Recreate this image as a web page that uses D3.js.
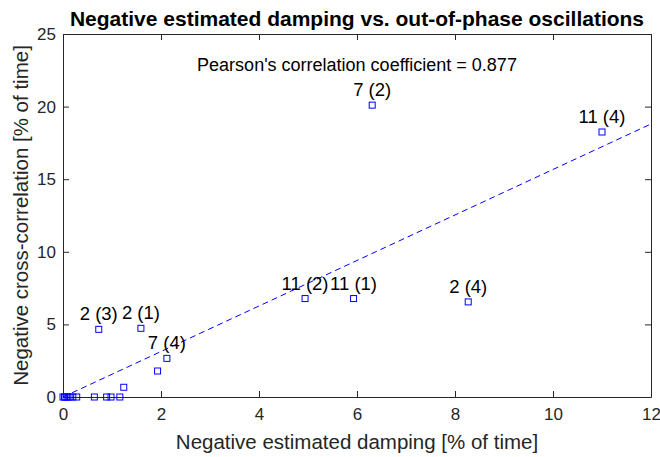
<!DOCTYPE html>
<html><head><meta charset="utf-8">
<script src="https://cdn.jsdelivr.net/npm/d3@7"></script>
<style>body{margin:0;background:#fff}svg{display:block}text{font-family:"Liberation Sans",Arial,sans-serif}</style>
</head><body>
<svg id="c" width="660" height="457"></svg>
<script>
const xVals = [0, 0.03, 0.06, 0.1, 0.14, 0.2, 0.28, 0.64, 0.89, 0.98, 1.16, 1.24, 1.93, 2.12, 0.73, 1.59, 4.94, 5.93, 8.27, 6.31, 11.0];
const yVals = [0, 0, 0, 0, 0, 0, 0, 0, 0, 0, 0, 0.67, 1.79, 2.66, 4.66, 4.73, 6.78, 6.78, 6.55, 20.1, 18.25];
const labels = ["", "", "", "", "", "", "", "", "", "", "", "", "", "7 (4)", "2 (3)", "2 (1)", "11 (2)", "11 (1)", "2 (4)", "7 (2)", "11 (4)"];
const xTicks = [0, 2, 4, 6, 8, 10, 12];
const yTicks = [0, 5, 10, 15, 20, 25];
const fitSlope = 1.567, fitIntercept = 0;
const fitRange = [0, 12];
const titleText = "Negative estimated damping vs. out-of-phase oscillations";
const xLabel = "Negative estimated damping [% of time]";
const yLabel = "Negative cross-correlation [% of time]";
const note = "Pearson's correlation coefficient = 0.877";

const svg = d3.select("#c");
const L = 63, R = 651, T = 34, B = 397;
const x = d3.scaleLinear().domain([0, 12]).range([L, R]);
const y = d3.scaleLinear().domain([0, 25]).range([B, T]);
const axCol = "#262626";

const g = svg.append("g");
const mk = (ax, tr) => {
  const a = g.append("g").attr("transform", tr).call(ax);
  a.select(".domain").attr("stroke", axCol);
  a.selectAll(".tick line").attr("stroke", axCol);
  a.selectAll("text").attr("fill", axCol).style("font-size", "17px").style("font-family", "Liberation Sans, Arial, sans-serif");
  return a;
};
mk(d3.axisBottom(x).tickValues(xTicks).tickSizeInner(-6).tickSizeOuter(0).tickPadding(11), `translate(0,${B})`);
mk(d3.axisTop(x).tickValues(xTicks).tickSizeInner(-6).tickSizeOuter(0).tickFormat(""), `translate(0,${T})`);
mk(d3.axisLeft(y).tickValues(yTicks).tickSizeInner(-6).tickSizeOuter(0).tickPadding(7), `translate(${L},0)`);
mk(d3.axisRight(y).tickValues(yTicks).tickSizeInner(-6).tickSizeOuter(0).tickFormat(""), `translate(${R},0)`);

g.append("line")
  .attr("x1", x(fitRange[0])).attr("y1", y(fitIntercept + fitSlope * fitRange[0]))
  .attr("x2", x(fitRange[1])).attr("y2", y(fitIntercept + fitSlope * fitRange[1]))
  .attr("stroke", "#0000ff").attr("stroke-width", 1).attr("stroke-dasharray", "6,4");

const data = xVals.map((v, i) => ({x: v, y: yVals[i], l: labels[i]}));
g.selectAll("rect.pt").data(data).enter().append("rect")
  .attr("x", d => x(d.x) - 3).attr("y", d => y(d.y) - 3)
  .attr("width", 6).attr("height", 6)
  .attr("fill", "none").attr("stroke", "#0000ff").attr("stroke-width", 1);

g.selectAll("text.lab").data(data.filter(d => d.l)).enter().append("text")
  .attr("x", d => x(d.x)).attr("y", d => y(d.y) - 9)
  .attr("text-anchor", "middle").style("font-size", "18.5px").attr("fill", "#000")
  .text(d => d.l);

svg.append("text").attr("x", 357).attr("y", 71).attr("text-anchor", "middle")
  .style("font-size", "18px").text(note);
svg.append("text").attr("x", (L + R) / 2).attr("y", 26).attr("text-anchor", "middle")
  .style("font-size", "21px").style("font-weight", "bold").text(titleText);
svg.append("text").attr("x", (L + R) / 2).attr("y", 449).attr("text-anchor", "middle")
  .style("font-size", "20.5px").attr("fill", axCol).text(xLabel);
svg.append("text").attr("transform", `translate(28,${(T + B) / 2}) rotate(-90)`).attr("text-anchor", "middle")
  .style("font-size", "20.5px").attr("fill", axCol).text(yLabel);
</script>
</body></html>
